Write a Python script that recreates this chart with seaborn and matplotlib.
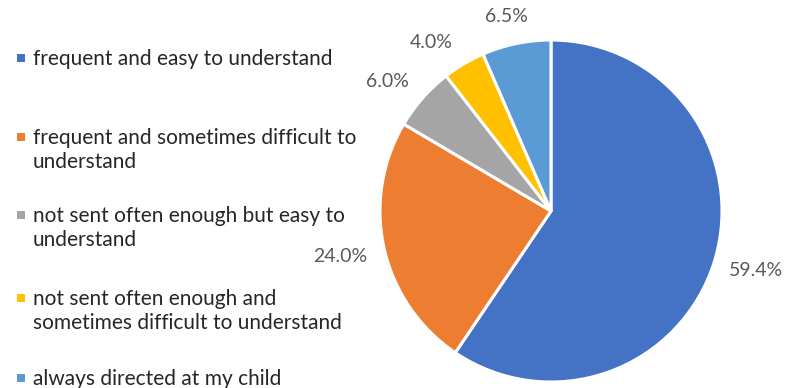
import numpy as np
import matplotlib.pyplot as plt
import matplotlib.patches as mpatches
import seaborn as sns

labels = [
    "frequent and easy to understand",
    "frequent and sometimes difficult to\nunderstand",
    "not sent often enough but easy to\nunderstand",
    "not sent often enough and\nsometimes difficult to understand",
    "always directed at my child",
]
shares = [59.4, 24.0, 6.0, 4.0, 6.5]
colors = ["#4472C4", "#ED7D31", "#A5A5A5", "#FFC000", "#5B9BD5"]

# label placement (radius factor, angular nudge in degrees)
label_r = [1.25, 1.26, 1.22, 1.21, 1.17]
label_nudge = [-0.8, 0.6, -3, -4.8, -1.3]

sns.set_theme(style="white")
plt.rcParams["font.family"] = ["Lato", "DejaVu Sans"]

W, H = 787, 388
fig = plt.figure(figsize=(W / 100, H / 100), dpi=100)

def fx(x):
    return x / W

def fy(y):
    return 1 - y / H

# pie: center (551, 211), radius 171 px
cx, cy, r = 551, 211, 171
ax = fig.add_axes([fx(cx - r), fy(cy + r), 2 * r / W, 2 * r / H])
wedges, _ = ax.pie(shares, colors=colors, startangle=90, counterclock=False,
                   wedgeprops=dict(edgecolor="white", linewidth=2.2))
ax.set_xlim(-1, 1)
ax.set_ylim(-1, 1)
ax.set_aspect("equal")
ax.axis("off")

for w, v, rf, nd in zip(wedges, shares, label_r, label_nudge):
    mid = np.deg2rad((w.theta1 + w.theta2) / 2 - nd)
    ax.text(rf * np.cos(mid), rf * np.sin(mid), f"{v:.1f}%",
            ha="center", va="center", fontsize=14, color="#595959",
            clip_on=False)

# legend on the left, evenly spaced entries
first_line_y = [58, 137, 215, 298, 378]
for lab, col, y in zip(labels, colors, first_line_y):
    fig.patches.append(mpatches.Rectangle((fx(17), fy(y + 4)), 8 / W, 8 / H,
                                          transform=fig.transFigure,
                                          facecolor=col, edgecolor="none"))
    fig.text(fx(33), fy(y - 9), lab, ha="left", va="top", fontsize=15,
             color="#262626", linespacing=1.25)

fig.savefig("out.png", dpi=100)
